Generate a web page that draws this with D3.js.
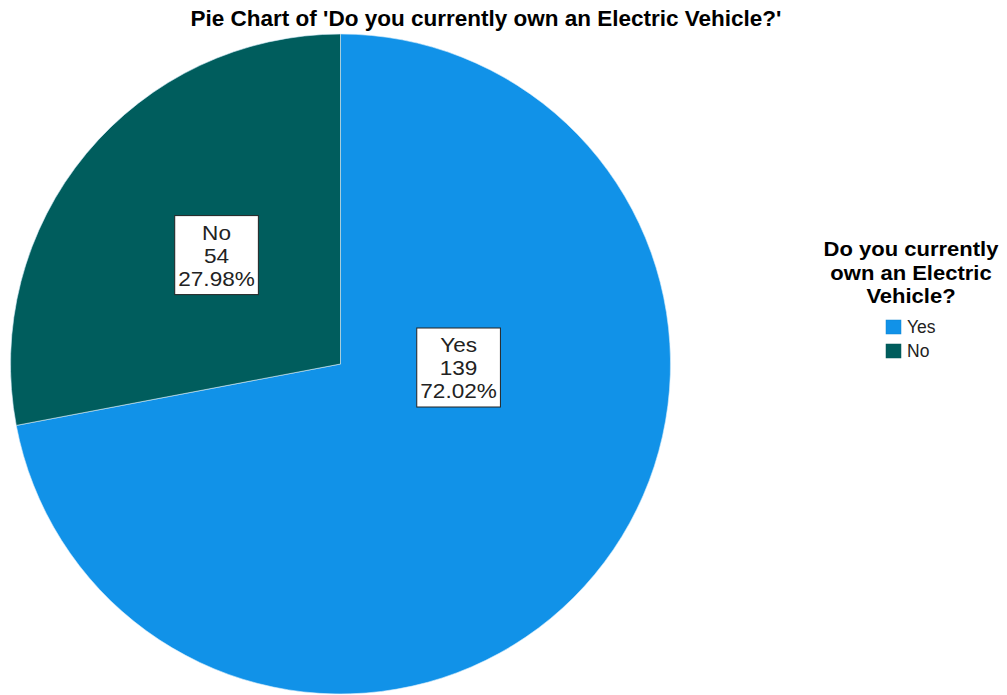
<!DOCTYPE html>
<html>
<head>
<meta charset="utf-8">
<script src="https://cdn.jsdelivr.net/npm/d3@7"></script>
<style>
  html, body { margin: 0; padding: 0; background: #ffffff; }
  svg { display: block; }
</style>
</head>
<body>
<svg id="chart" width="1007" height="695"></svg>
<script>
// Survey responses
const categories = ["Yes", "No"];
const counts = [139, 54];
const percentLabels = ["72.02%", "27.98%"];
const colors = ["#1192e8", "#005d5d"];

const titleText = "Pie Chart of 'Do you currently own an Electric Vehicle?'";
const legendTitleLines = ["Do you currently", "own an Electric", "Vehicle?"];

// Where each value box sits: angle (degrees clockwise from 12 o'clock) and fraction of radius
const labelAnchors = [
  { angle: 91.7, r: 0.358 },
  { angle: 311.3, r: 0.500 }
];

const svg = d3.select("#chart");
const font = "'Liberation Sans', Arial, sans-serif";

const cx = 340.5, cy = 364, radius = 330;

// Title
svg.append("text")
  .attr("x", 486)
  .attr("y", 26)
  .attr("text-anchor", "middle")
  .attr("font-family", font)
  .attr("font-weight", "bold")
  .attr("font-size", 22.5)
  .attr("fill", "#000")
  .text(titleText);

const data = categories.map((c, i) => ({ category: c, count: counts[i], pct: percentLabels[i], color: colors[i], anchor: labelAnchors[i] }));

const pie = d3.pie().sort(null).value(d => d.count);
const arc = d3.arc().innerRadius(0).outerRadius(radius);

const g = svg.append("g").attr("transform", `translate(${cx},${cy})`);

const arcs = pie(data);

g.selectAll("path.slice")
  .data(arcs)
  .join("path")
  .attr("class", "slice")
  .attr("d", arc)
  .attr("fill", d => d.data.color)
  .attr("stroke", "#d8eefc")
  .attr("stroke-width", 0.6);

// Value boxes: category, count and percentage stacked inside a white box
const lineH = 23;
const fs = 20;
const stretch = 1.13; // slightly widened glyphs
arcs.forEach(d => {
  const a = d.data.anchor.angle * Math.PI / 180;
  const r = d.data.anchor.r * radius;
  const x = r * Math.sin(a);
  const y = -r * Math.cos(a);
  const lines = [d.data.category, String(d.data.count), d.data.pct];
  const lg = g.append("g").attr("transform", `translate(${x},${y})`);
  const rect = lg.append("rect");
  const texts = lines.map((l, i) =>
    lg.append("text")
      .attr("text-anchor", "middle")
      .attr("font-family", font)
      .attr("font-size", fs)
      .attr("fill", "#222")
      .attr("transform", `translate(0,${(i - 1) * lineH + 7.5}) scale(${stretch},1)`)
      .text(l)
  );
  const maxW = d3.max(texts, t => t.node().getBBox().width) * stretch;
  const w = maxW + 7;
  const h = lines.length * lineH + 10;
  rect.attr("x", -w / 2)
    .attr("y", -h / 2)
    .attr("width", w)
    .attr("height", h)
    .attr("fill", "#ffffff")
    .attr("stroke", "#222")
    .attr("stroke-width", 1);
});

// Legend
const legend = svg.append("g");
legend.selectAll("text.legend-title")
  .data(legendTitleLines)
  .join("text")
  .attr("class", "legend-title")
  .attr("text-anchor", "middle")
  .attr("font-family", font)
  .attr("font-weight", "bold")
  .attr("font-size", 20)
  .attr("fill", "#000")
  .attr("transform", (d, i) => `translate(911,${256 + i * 23.5}) scale(1.1,1)`)
  .text(d => d);

const items = legend.selectAll("g.item")
  .data(data)
  .join("g")
  .attr("class", "item")
  .attr("transform", (d, i) => `translate(886, ${320 + i * 24})`);

items.append("rect")
  .attr("width", 15)
  .attr("height", 14)
  .attr("fill", d => d.color)
  .attr("stroke", d => d3.color(d.color).darker(0.3))
  .attr("stroke-width", 0.5);

items.append("text")
  .attr("x", 21)
  .attr("y", 13)
  .attr("font-family", font)
  .attr("font-size", 17.5)
  .attr("fill", "#222")
  .text(d => d.category);
</script>
</body>
</html>
